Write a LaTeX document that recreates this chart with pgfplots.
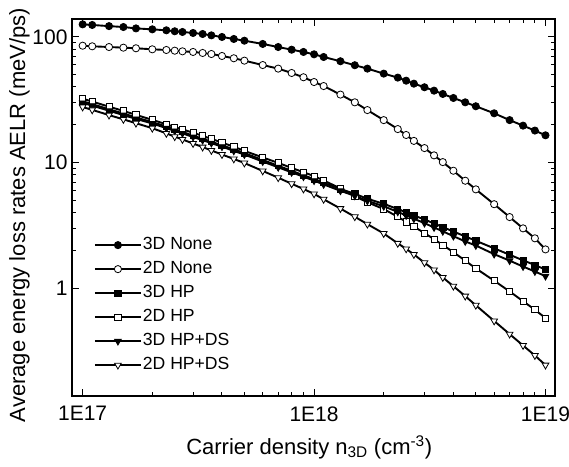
\documentclass[border=0pt]{standalone}
\usepackage{fontspec}
\setmainfont{Liberation Sans}
\usepackage{pgfplots}
\pgfplotsset{compat=1.18}
\usepackage{pgfplotstable}

\pgfplotstableread{
x        a      b      c      d      e      f
1.0e17   126    85.2   30.8   32.3   29.9   27.7
1.1e17   124.6  84.3   29.2   30.6   28.4   26.3
1.3e17   122    83.2   26.6   27.9   25.9   23.9
1.5e17   120    82.2   24.6   25.8   23.9   22.1
1.7e17   117    81.3   22.9   24.0   22.3   20.6
2.0e17   115    79.8   21.0   21.9   20.5   18.8
2.3e17   113    78.8   19.4   20.2   18.8   17.1
2.5e17   111    77.8   18.4   19.2   17.9   16.1
2.7e17   109.6  76.9   17.6   18.4   17.1   15.3
3.0e17   107.6  76.0   16.4   17.3   16.0   14.2
3.3e17   105.6  74.6   15.5   16.3   15.1   13.3
3.6e17   103    73.2   14.7   15.5   14.3   12.5
4.0e17   100    70.6   13.7   14.4   13.4   11.6
4.5e17   96.4   67.7   12.8   13.4   12.4   10.7
5e17     93.4   64.8   11.9   12.4   11.6   9.93
6e17     88     59.8   10.5   11.0   10.2   8.59
7e17     83.2   56.0   9.44   9.95   9.18   7.59
8e17     79.2   51.7   8.61   9.08   8.37   6.79
9e17     76     47.8   7.94   8.39   7.73   6.17
1e18     72.8   43.8   7.40   7.82   7.19   5.64
1.1e18   69.3   40.7   6.92   7.21   6.71   5.11
1.3e18   64.1   34.8   6.17   6.24   5.97   4.31
1.5e18   59.6   30.2   5.65   5.40   5.44   3.71
1.7e18   56     26.2   5.16   4.84   4.97   3.24
2.0e18   51.1   21.8   4.70   4.27   4.49   2.73
2.3e18   47.5   18.5   4.27   3.71   4.06   2.28
2.5e18   44.9   16.6   4.02   3.38   3.80   2.06
2.7e18   42.5   14.9   3.80   3.10   3.58   1.86
3.0e18   39.8   13.06  3.53   2.75   3.30   1.60
3.3e18   37.4   11.43  3.28   2.46   3.05   1.40
3.6e18   35.2   10.1   3.07   2.21   2.84   1.22
4.0e18   32.7   8.62   2.83   1.94   2.60   1.04
4.5e18   30.2   7.18   2.59   1.66   2.36   0.867
5e18     28.1   6.13   2.39   1.44   2.19   0.733
6e18     24.7   4.67   2.08   1.15   1.87   0.550
7e18     21.8   3.69   1.85   0.944  1.66   0.432
8e18     19.7   3.0    1.67   0.79   1.49   0.351
9e18     18.0   2.50   1.53   0.675  1.36   0.292
1e19     16.5   2.04   1.41   0.58   1.25   0.245
}\data

\begin{document}
\begin{tikzpicture}
\useasboundingbox (-72pt,-70pt) rectangle (497pt,396pt);
\begin{axis}[
  scale only axis, width=483pt, height=377pt,
  xmode=log, ymode=log,
  xmin=9e16, xmax=1.1e19, ymin=0.139, ymax=139,
  xtick={1e17,1e18,1e19}, xticklabels={1E17,1E18,1E19},
  ytick={1,10,100}, yticklabels={1,10,100},
  axis line style={line width=1.3pt},
  tick align=inside,
  major tick length=7pt, minor tick length=4pt,
  every tick/.style={black, line width=1pt},
  ticklabel style={font=\fontsize{21}{25}\selectfont},
  xticklabel style={yshift=-7pt},
  yticklabel style={xshift=-1pt},
  xlabel={Carrier density n\textsubscript{3D} (cm\textsuperscript{-3})},
  ylabel={Average energy loss rates AELR (meV/ps)},
  label style={font=\fontsize{22}{26}\selectfont},
  xlabel style={at={(axis description cs:0.491,0)}, anchor=base, yshift=-58pt},
  ylabel style={at={(axis description cs:-0.0973,0.48)}, anchor=base},
  legend cell align=left,
  legend image code/.code={\draw[mark repeat=2,mark phase=2] plot coordinates {(0pt,0pt)(23pt,0pt)(46pt,0pt)};},
  legend style={at={(axis description cs:0.045,0.425)}, anchor=north west, draw=none, fill=none,
    font=\fontsize{17.6}{20}\selectfont, inner sep=0pt, row sep=5.7pt,
    nodes={inner sep=1pt, text height=12.6pt, text depth=3.7pt}},
]
\addplot[black, line width=1.9pt, mark=*, mark size=3.6pt, mark options={solid, fill=black, line width=0.8pt}] table[x=x,y=a] {\data};
\addlegendentry{3D None}
\addplot[black, line width=1.9pt, mark=*, mark size=3.6pt, mark options={solid, fill=white, line width=0.8pt}] table[x=x,y=b] {\data};
\addlegendentry{2D None}
\addplot[black, line width=1.9pt, mark=square*, mark size=3.1pt, mark options={solid, fill=black, line width=0.8pt}] table[x=x,y=c] {\data};
\addlegendentry{3D HP}
\addplot[black, line width=1.9pt, mark=square*, mark size=3.1pt, mark options={solid, fill=white, line width=0.8pt}] table[x=x,y=d] {\data};
\addlegendentry{2D HP}
\addplot[black, line width=1.9pt, mark=triangle*, mark size=3.9pt, mark options={solid, fill=black, line width=0.8pt, rotate=180}] table[x=x,y=e] {\data};
\addlegendentry{3D HP+DS}
\addplot[black, line width=1.9pt, mark=triangle*, mark size=3.9pt, mark options={solid, fill=white, line width=0.8pt, rotate=180}] table[x=x,y=f] {\data};
\addlegendentry{2D HP+DS}
\end{axis}
\end{tikzpicture}
\end{document}
